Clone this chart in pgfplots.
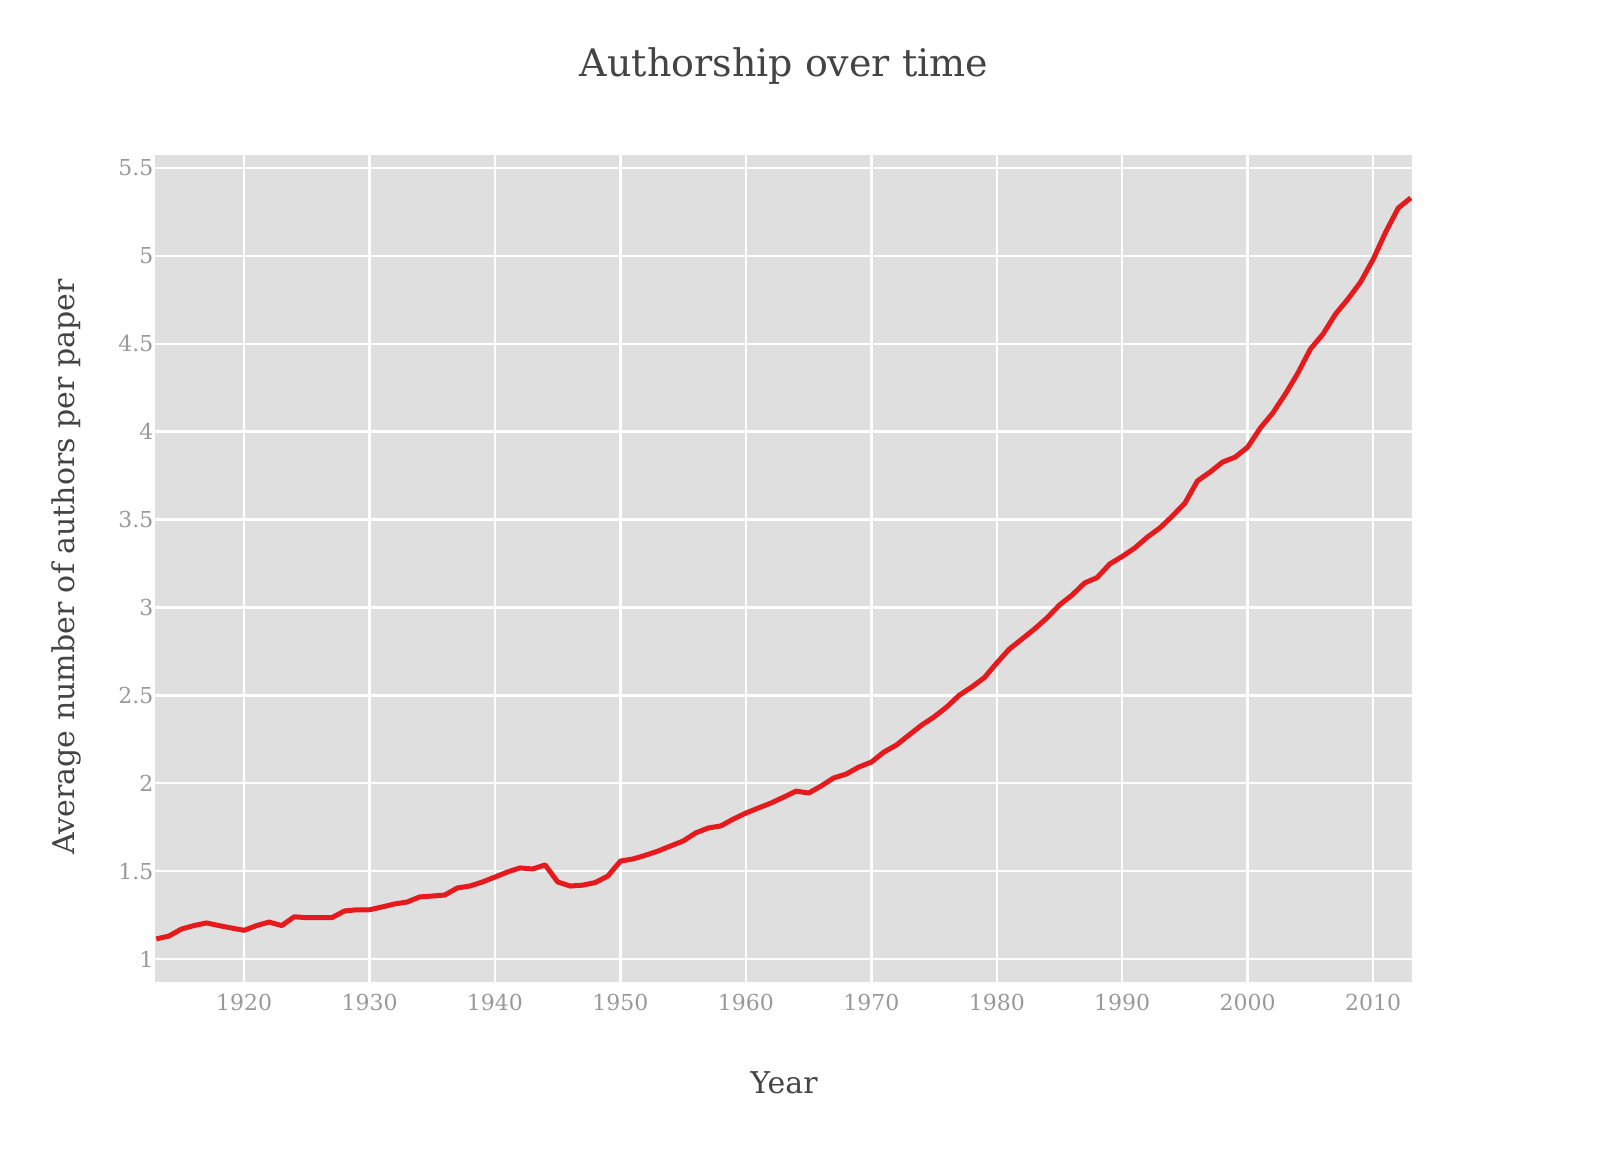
\documentclass[border=0pt]{standalone}
\usepackage{fontspec}
\setmainfont{DejaVu Serif}
\usepackage{pgfplots}
\pgfplotsset{compat=1.18}
\definecolor{bgc}{HTML}{DFDFDF}
\definecolor{linec}{HTML}{E41A1C}
\definecolor{tickc}{HTML}{999999}
\definecolor{labc}{HTML}{444444}
\begin{document}
\begin{tikzpicture}[x=1pt,y=1pt]
\path[use as bounding box] (0,0) rectangle (1600,1160);
\begin{axis}[
  at={(155pt,178pt)}, anchor=south west,
  scale only axis, width=1257pt, height=827pt,
  xmin=1912.9, xmax=2013.1, ymin=0.869, ymax=5.574,
  axis background/.style={fill=bgc},
  axis line style={draw=none},
  major tick length=0pt,
  grid=major,
  major grid style={white, line width=2.5pt},
  xtick={1920,1930,1940,1950,1960,1970,1980,1990,2000,2010},
  ytick={1,1.5,2,2.5,3,3.5,4,4.5,5,5.5},
  yticklabels={1,1.5,2,2.5,3,3.5,4,4.5,5,5.5},
  /pgf/number format/1000 sep={},
  /pgf/number format/assume math mode=true,
  tick label style={font=\fontsize{22}{26}\selectfont, text=tickc},
  yticklabel style={xshift=2pt},
  xticklabel style={yshift=-9pt},
]
\addplot[linec, line width=5pt, line join=round] coordinates {
(1913,1.114) (1914,1.13) (1915,1.17) (1916,1.19) (1917,1.205) (1918,1.19)
(1919,1.176) (1920,1.163) (1921,1.19) (1922,1.21) (1923,1.19) (1924,1.24)
(1925,1.235) (1926,1.235) (1927,1.235) (1928,1.273) (1929,1.28) (1930,1.28)
(1931,1.296) (1932,1.313) (1933,1.324) (1934,1.353) (1935,1.358) (1936,1.364)
(1937,1.404) (1938,1.415) (1939,1.438) (1940,1.466) (1941,1.495) (1942,1.518)
(1943,1.512) (1944,1.535) (1945,1.438) (1946,1.415) (1947,1.42) (1948,1.435)
(1949,1.472) (1950,1.557) (1951,1.569) (1952,1.59) (1953,1.614) (1954,1.643)
(1955,1.671) (1956,1.717) (1957,1.745) (1958,1.757) (1959,1.796) (1960,1.83)
(1961,1.859) (1962,1.887) (1963,1.92) (1964,1.955) (1965,1.944) (1966,1.984)
(1967,2.03) (1968,2.052) (1969,2.092) (1970,2.12) (1971,2.177) (1972,2.217)
(1973,2.274) (1974,2.33) (1975,2.377) (1976,2.433) (1977,2.5) (1978,2.547)
(1979,2.6) (1980,2.684) (1981,2.763) (1982,2.82) (1983,2.877) (1984,2.94)
(1985,3.014) (1986,3.07) (1987,3.139) (1988,3.17) (1989,3.247) (1990,3.29)
(1991,3.338) (1992,3.4) (1993,3.452) (1994,3.52) (1995,3.594) (1996,3.72)
(1997,3.77) (1998,3.827) (1999,3.855) (2000,3.912) (2001,4.02) (2002,4.106)
(2003,4.214) (2004,4.333) (2005,4.47) (2006,4.555) (2007,4.669) (2008,4.755)
(2009,4.851) (2010,4.98) (2011,5.135) (2012,5.272) (2013,5.33)
};
\end{axis}
\node[text=labc, font=\fontsize{38}{44}\selectfont] at (784,1094) {Authorship over time};
\node[text=labc, font=\fontsize{30}{36}\selectfont] at (784,77) {Year};
\node[text=labc, font=\fontsize{30}{36}\selectfont, rotate=90] at (66,593) {Average number of authors per paper};
\end{tikzpicture}
\end{document}
